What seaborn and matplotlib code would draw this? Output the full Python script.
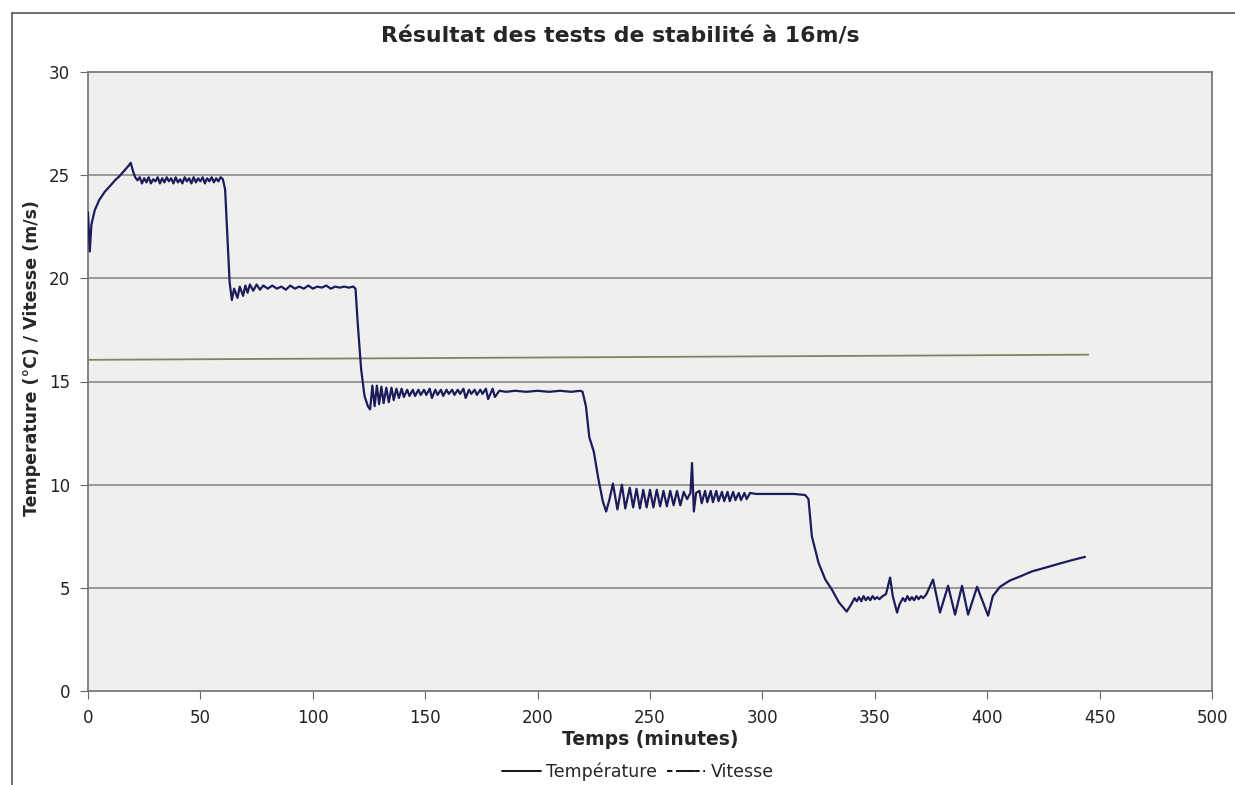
import matplotlib
matplotlib.use("Agg")
import matplotlib.pyplot as plt
import seaborn as sns
import pandas as pd
from matplotlib.lines import Line2D

# Temperature trace (minutes, degC)
warmup = [(0, 23.2), (0.8, 21.3), (1.5, 22.6), (3, 23.3), (5, 23.8), (7.5, 24.2),
          (10, 24.5), (12, 24.75), (14, 24.95), (16, 25.2), (18, 25.45), (19, 25.6),
          (20, 25.2), (21, 24.9), (22, 24.75)]

plateau_25 = [(23, 24.9), (24, 24.6), (25, 24.85), (26, 24.65), (27, 24.9), (28, 24.6),
              (29, 24.8), (30, 24.7), (31, 24.9), (32, 24.6), (33, 24.85), (34, 24.65),
              (35, 24.9), (36, 24.7), (37, 24.85), (38, 24.6), (39, 24.9), (40, 24.65),
              (41, 24.8), (42, 24.6), (43, 24.9), (44, 24.7), (45, 24.85), (46, 24.6),
              (47, 24.9), (48, 24.65), (49, 24.85), (50, 24.7), (51, 24.9), (52, 24.6),
              (53, 24.85), (54, 24.7), (55, 24.9), (56, 24.65), (57, 24.85), (58, 24.7),
              (59, 24.9), (60, 24.8)]

plateau_20 = [(61, 24.3), (62, 22.0), (63, 19.8), (64, 18.95), (65, 19.5), (66.5, 19.05),
              (67.5, 19.6), (69, 19.15), (70, 19.65), (71, 19.3), (72, 19.7), (73.5, 19.4),
              (75, 19.7), (76.5, 19.45), (78, 19.65), (80, 19.5), (82, 19.65), (84, 19.5),
              (86, 19.6), (88, 19.45), (90, 19.65), (92, 19.5), (94, 19.6), (96, 19.5),
              (98, 19.65), (100, 19.5), (102, 19.6), (104, 19.55), (106, 19.65), (108, 19.5),
              (110, 19.6), (112, 19.55), (114, 19.6), (116, 19.55), (118, 19.6)]

plateau_15 = [(119, 19.5), (120, 17.8), (121.5, 15.6), (123, 14.3), (124.5, 13.8),
              (125.5, 13.65), (126.5, 14.8), (127.5, 13.8), (128.5, 14.8), (129.5, 13.9),
              (130.5, 14.75), (131.5, 13.95), (132.7, 14.7), (133.8, 14.0), (135, 14.7),
              (136, 14.1), (137.2, 14.65), (138.3, 14.2), (139.5, 14.65), (140.5, 14.25),
              (142, 14.6), (143, 14.3), (144.5, 14.6), (145.5, 14.3), (147, 14.6),
              (148, 14.35), (149.5, 14.6), (150.5, 14.35), (152, 14.65), (153, 14.2),
              (154.5, 14.6), (155.5, 14.35), (157, 14.6), (158, 14.3), (159.5, 14.6),
              (160.5, 14.4), (162, 14.6), (163, 14.35), (164.5, 14.6), (165.5, 14.4),
              (167, 14.65), (168, 14.2), (169.5, 14.6), (170.5, 14.4), (172, 14.6),
              (173, 14.35), (174.5, 14.6), (175.5, 14.4), (177, 14.65), (178, 14.15),
              (180, 14.65), (181, 14.25), (183, 14.55), (186, 14.5), (190, 14.55),
              (195, 14.5), (200, 14.55), (205, 14.5), (210, 14.55), (215, 14.5),
              (219, 14.55)]

plateau_10 = [(220, 14.5), (221.5, 13.8), (223, 12.3), (225, 11.6), (227, 10.3),
              (229, 9.2), (230.5, 8.7), (232, 9.3), (233.5, 10.05), (235.5, 8.8),
              (237.5, 10.0), (239, 8.85), (241, 9.85), (242.5, 8.9), (244, 9.8),
              (245.5, 8.85), (247, 9.75), (248.5, 8.9), (250, 9.75), (251.5, 8.9),
              (253, 9.75), (254.5, 8.95), (256, 9.7), (257.5, 8.95), (259, 9.7),
              (260.5, 9.0), (262, 9.7), (263.5, 9.0), (265, 9.65), (266.5, 9.3),
              (268, 9.6), (268.7, 11.05), (269.5, 8.7), (270.5, 9.6), (272, 9.7),
              (273, 9.1), (274.5, 9.7), (275.5, 9.15), (277, 9.7), (278, 9.15),
              (279.5, 9.7), (280.5, 9.2), (282, 9.65), (283, 9.2), (284.5, 9.65),
              (285.5, 9.2), (287, 9.65), (288, 9.25), (289.5, 9.6), (290.5, 9.25),
              (292, 9.6), (293, 9.3), (294.5, 9.6), (297, 9.55), (302, 9.55),
              (308, 9.55), (314, 9.55), (319, 9.5)]

plateau_5 = [(320.5, 9.3), (322, 7.5), (325, 6.2), (328, 5.4), (331, 4.9), (334, 4.3),
             (337.5, 3.85), (339.5, 4.2), (341, 4.5), (342, 4.35), (343, 4.55), (344, 4.35),
             (345, 4.6), (346, 4.4), (347, 4.55), (348, 4.4), (349, 4.6), (350, 4.45),
             (351, 4.55), (352, 4.45), (353.5, 4.6), (355, 4.7), (356.8, 5.5), (358, 4.6),
             (359.9, 3.8), (361, 4.2), (362.5, 4.5), (363.5, 4.35), (364.5, 4.6),
             (365.5, 4.4), (366.5, 4.55), (367.5, 4.4), (368.5, 4.6), (369.5, 4.45),
             (370.5, 4.6), (371.5, 4.5), (373, 4.7), (375.9, 5.4), (379, 3.8),
             (382.6, 5.1), (385.7, 3.7), (388.8, 5.1), (391.5, 3.7), (395.5, 5.05),
             (400.4, 3.65), (402.5, 4.6), (405.7, 5.05), (410, 5.35), (414.6, 5.55),
             (420, 5.8), (426.6, 6.0), (433, 6.2), (438, 6.35), (443.5, 6.5)]

# Wind speed (m/s), nearly constant
vitesse = [(0, 16.05), (445, 16.3)]

temp_pts = warmup + plateau_25 + plateau_20 + plateau_15 + plateau_10 + plateau_5
df_temp = pd.DataFrame(temp_pts, columns=["temps", "valeur"])
df_vit = pd.DataFrame(vitesse, columns=["temps", "valeur"])

TEMP_COLOR = "#1c1c5c"
VIT_COLOR = "#7d8468"

sns.set_style("white")
plt.rcParams["font.family"] = ["DejaVu Sans"]

fig = plt.figure(figsize=(12.35, 7.85), dpi=100)
ax = fig.add_axes([88 / 1235, 1 - 691 / 785, (1212 - 88) / 1235, (691 - 72) / 785])
ax.set_facecolor("#efefed")

for yv in range(5, 30, 5):
    ax.axhline(yv, color="#8a8a8a", lw=1.2, zorder=1)

sns.lineplot(data=df_vit, x="temps", y="valeur", ax=ax, color=VIT_COLOR,
             lw=1.3, sort=False, estimator=None, zorder=2)
sns.lineplot(data=df_temp, x="temps", y="valeur", ax=ax, color=TEMP_COLOR,
             lw=1.6, sort=False, estimator=None, zorder=3)

ax.set_xlim(0, 500)
ax.set_ylim(0, 30)
ax.set_xticks(range(0, 501, 50))
ax.set_yticks(range(0, 31, 5))
ax.tick_params(axis="both", labelsize=12, labelcolor="#222222", length=6,
               direction="out", bottom=True, left=True, color="#666666", pad=7)
for sp in ax.spines.values():
    sp.set_color("#707070")
    sp.set_linewidth(1.2)

ax.set_xlabel("Temps (minutes)", fontsize=13.5, fontweight="bold", labelpad=2)
ax.set_ylabel("Temperature (°C) / Vitesse (m/s)", fontsize=12.5, fontweight="bold")
ax.yaxis.set_label_coords((41 - 88) / 1124, (691 - 358) / 619)

fig.text(0.502, 1 - 37 / 785, "Résultat des tests de stabilité à 16m/s",
         ha="center", va="center", fontsize=15.8, fontweight="bold")

handles = [Line2D([0], [0], color="black", lw=1.3),
           Line2D([0], [0], color="black", lw=1.3, dashes=[3, 2, 10, 0.1])]
fig.legend(handles, ["Température", "Vitesse"], loc="center",
           bbox_to_anchor=(638 / 1235, 1 - 772 / 785), ncol=2, frameon=False,
           fontsize=12.5, handlelength=2.2, columnspacing=0.6, handletextpad=0.3)

# outer chart frame (only top and left edges visible in the scan)
fig.add_artist(Line2D([12 / 1235, 1.0], [1 - 13 / 785, 1 - 13 / 785],
                      color="#555555", lw=1.2, transform=fig.transFigure))
fig.add_artist(Line2D([12 / 1235, 12 / 1235], [0, 1 - 13 / 785],
                      color="#555555", lw=1.2, transform=fig.transFigure))

fig.savefig("out.png", dpi=100, facecolor="white")
